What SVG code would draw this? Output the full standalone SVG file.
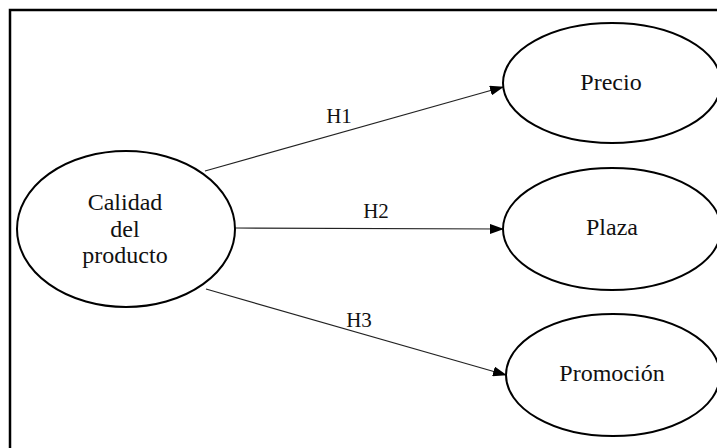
<svg xmlns="http://www.w3.org/2000/svg" width="717" height="448" viewBox="0 0 717 448">
<style>
.n{fill:#fff;stroke:#000;stroke-width:2}
.t{font-family:"Liberation Serif",serif;font-size:24px;fill:#111;text-anchor:middle}
.l{font-family:"Liberation Serif",serif;font-size:21px;fill:#111;text-anchor:middle}
.c{stroke:#222;stroke-width:1.2;fill:none;marker-end:url(#a)}
</style>
<defs>
<marker id="a" markerWidth="14" markerHeight="10" refX="13" refY="5" orient="auto" markerUnits="userSpaceOnUse">
<path d="M0,0 L14,5 L0,10 Z" fill="#000"/>
</marker>
</defs>
<rect x="0" y="0" width="717" height="448" fill="#fff"/>
<rect x="10" y="10" width="720" height="450" fill="none" stroke="#000" stroke-width="2.5"/>
<g id="connectors">
<line class="c" x1="205" y1="171" x2="503" y2="87"/>
<line class="c" x1="235" y1="228" x2="503" y2="229"/>
<line class="c" x1="206" y1="289" x2="506" y2="375"/>
<text class="l" x="339" y="123">H1</text>
<text class="l" x="376" y="218">H2</text>
<text class="l" x="359" y="327">H3</text>
</g>
<g id="calidad">
<ellipse class="n" cx="126" cy="229" rx="109" ry="78"/>
<text class="t" x="125" y="210">Calidad</text>
<text class="t" x="125" y="237">del</text>
<text class="t" x="125" y="263">producto</text>
</g>
<g id="precio">
<ellipse class="n" cx="612" cy="83" rx="109" ry="60"/>
<text class="t" x="611" y="90">Precio</text>
</g>
<g id="plaza">
<ellipse class="n" cx="612" cy="229" rx="109" ry="61"/>
<text class="t" x="612" y="235">Plaza</text>
</g>
<g id="promocion">
<ellipse class="n" cx="613" cy="375" rx="107" ry="61"/>
<text class="t" x="612" y="381">Promoción</text>
</g>
</svg>
